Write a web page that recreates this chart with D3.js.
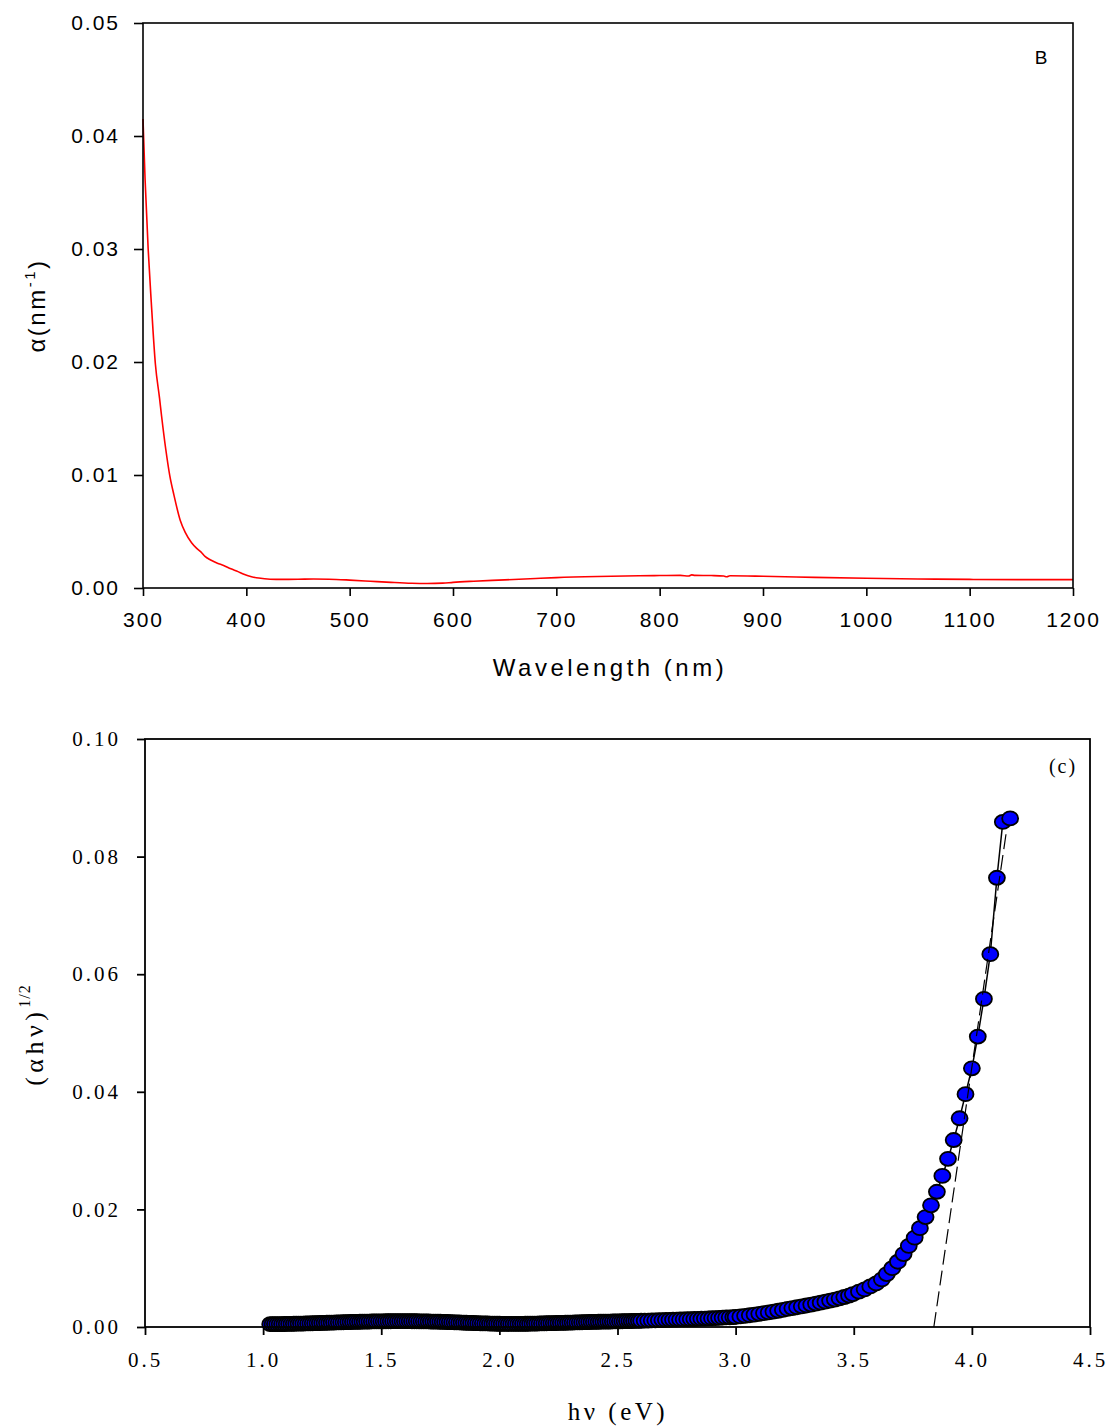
<!DOCTYPE html>
<html>
<head>
<meta charset="utf-8">
<script src="https://cdn.jsdelivr.net/npm/d3@7"></script>
<style>
  body { margin: 0; background: #fff; }
  .sans text { font-family: "Liberation Sans", Arial, sans-serif; }
  .serif text { font-family: "Liberation Serif", "Times New Roman", serif; }
</style>
</head>
<body>
<svg id="chart" width="1109" height="1427"></svg>
<script>
// ---- top panel : absorption coefficient vs wavelength ----
var wavelength = [300,302,305,308,312,316,318,322,326,330,336,341,347,352,356,360,365,372,378,385,392,397,405,412,423,435,450,465,480,500,520,540,560,575,590,600,620,650,680,700,740,780,800,820,828,831,834,850,862,865,868,900,950,1000,1050,1100,1150,1200]
var alpha = [0.0415,0.0362,0.0300,0.0253,0.0198,0.0168,0.0152,0.0123,0.0099,0.0082,0.0060,0.0049,0.0040,0.0035,0.0032,0.0028,0.0025,0.0022,0.0020,0.0017,0.00145,0.00124,0.0010,0.00088,0.00078,0.00076,0.00077,0.00080,0.00078,0.00070,0.00060,0.00050,0.00042,0.00040,0.00043,0.00050,0.00060,0.00072,0.00084,0.00092,0.00102,0.00108,0.00110,0.00112,0.00106,0.00116,0.00112,0.00110,0.00106,0.00099,0.00108,0.00104,0.00094,0.00086,0.00080,0.00076,0.00074,0.00074]
var topXTicks = [300,400,500,600,700,800,900,1000,1100,1200]
var topYTicks = [0,0.01,0.02,0.03,0.04,0.05]

// ---- bottom panel : (alpha h nu)^1/2 vs photon energy ----
// dense part of the band (markers overlap into a solid strip)
var bandEnergy = [1.03,1.04,1.05,1.06,1.07,1.08,1.09,
  1.10,1.11,1.12,1.13,1.14,1.15,1.16,1.17,1.18,1.19,
  1.20,1.21,1.22,1.23,1.24,1.25,1.26,1.27,1.28,1.29,
  1.30,1.31,1.32,1.33,1.34,1.35,1.36,1.37,1.38,1.39,
  1.40,1.41,1.42,1.43,1.44,1.45,1.46,1.47,1.48,1.49,
  1.50,1.51,1.52,1.53,1.54,1.55,1.56,1.57,1.58,1.59,
  1.60,1.61,1.62,1.63,1.64,1.65,1.66,1.67,1.68,1.69,
  1.70,1.71,1.72,1.73,1.74,1.75,1.76,1.77,1.78,1.79,
  1.80,1.81,1.82,1.83,1.84,1.85,1.86,1.87,1.88,1.89,
  1.90,1.91,1.92,1.93,1.94,1.95,1.96,1.97,1.98,1.99,
  2.00,2.01,2.02,2.03,2.04,2.05,2.06,2.07,2.08,2.09,
  2.10,2.11,2.12,2.13,2.14,2.15,2.16,2.17,2.18,2.19,
  2.20,2.21,2.22,2.23,2.24,2.25,2.26,2.27,2.28,2.29,
  2.30,2.31,2.32,2.33,2.34,2.35,2.36,2.37,2.38,2.39,
  2.40,2.41,2.42,2.43,2.44,2.45,2.46,2.47,2.48,2.49,
  2.50,2.51,2.52,2.53,2.54,2.55,2.56,2.57,2.58,2.59,
  2.600,2.615,2.630,2.645,2.660,2.675,2.690,2.705,2.720,2.735,2.750,2.765,2.780,2.795,
  2.810,2.825,2.840,2.855,2.870,2.885,2.900,2.915,2.930,2.945,2.960,2.975,2.990,
  3.00,3.02,3.04,3.06,3.08,3.10,3.12,3.14,3.16,3.18,3.20,3.22,3.24,3.26,3.28,
  3.30,3.32,3.34,3.36,3.38,3.40,3.42,3.44,3.46,3.48]
var bandValue = [.00048,.00048,.00049,.00049,.00050,.00050,.00051,
  .00052,.00053,.00054,.00055,.00056,.00057,.00058,.00059,.00060,.00061,
  .00062,.00064,.00065,.00066,.00068,.00069,.00070,.00072,.00073,.00074,
  .00076,.00077,.00078,.00080,.00081,.00082,.00084,.00085,.00086,.00087,
  .00088,.00089,.00090,.00091,.00092,.00093,.00094,.00095,.00095,.00096,
  .00097,.00097,.00098,.00098,.00098,.00099,.00099,.00099,.00099,.00099,
  .00099,.00099,.00099,.00098,.00098,.00098,.00097,.00097,.00096,.00095,
  .00094,.00093,.00092,.00091,.00090,.00089,.00087,.00086,.00085,.00083,
  .00082,.00080,.00079,.00077,.00076,.00074,.00072,.00071,.00069,.00068,
  .00066,.00065,.00063,.00062,.00061,.00060,.00058,.00057,.00056,.00055,
  .00055,.00054,.00054,.00053,.00053,.00053,.00053,.00053,.00053,.00054,
  .00054,.00055,.00055,.00056,.00057,.00058,.00059,.00060,.00061,.00063,
  .00064,.00065,.00066,.00067,.00068,.00069,.00070,.00071,.00072,.00074,
  .00075,.00076,.00077,.00078,.00080,.00081,.00082,.00083,.00085,.00086,
  .00087,.00088,.00089,.00090,.00091,.00091,.00092,.00093,.00094,.00095,
  .00096,.00097,.00098,.00099,.00100,.00101,.00102,.00103,.00104,.00105,
  .00106,.00108,.00110,.00112,.00114,.00116,.00118,.00120,.00122,.00124,.00126,.00128,.00130,.00132,
  .00134,.00136,.00139,.00141,.00143,.00146,.00149,.00152,.00155,.00158,.00162,.00165,.00169,
  .00172,.00180,.00190,.00200,.00212,.00224,.00236,.00248,.00262,.00276,.00290,.00308,.00322,.00336,.00352,
  .00366,.00382,.00398,.00414,.00430,.00448,.00466,.00488,.00510,.00535]
// absorption edge, markers read one by one
var edgeEnergy = [3.496,3.522,3.546,3.570,3.595,3.619,3.640,3.663,3.687,3.711,3.733,3.758,3.780,3.804,3.827,3.852,3.875,3.899,3.923,3.948,3.973,4.000,4.025,4.051,4.078,4.106,4.131,4.162]
var edgeValue = [0.0056,0.0060,0.0064,0.0069,0.0074,0.0081,0.0090,0.0100,0.0111,0.0124,0.0138,0.0152,0.0168,0.0187,0.0207,0.0230,0.0257,0.0286,0.0318,0.0355,0.0396,0.0440,0.0494,0.0558,0.0634,0.0764,0.0859,0.0865]
// linear extrapolation of the edge (dashed)
var fitEnergy = [3.839, 4.148]
var fitValue = [0, 0.0848]
var botXTicks = [0.5,1.0,1.5,2.0,2.5,3.0,3.5,4.0,4.5]
var botYTicks = [0,0.02,0.04,0.06,0.08,0.10]

var svg = d3.select('#chart')

// ================= top panel =================
var t_margin = { left: 143, top: 23 }
var t_width = 930, t_height = 565

var t = svg.append('g')
  .attr('class', 'sans')
  .attr('transform', 'translate(' + t_margin.left + ',' + t_margin.top + ')')

var tx = d3.scaleLinear().domain([300, 1200]).range([0, t_width])
var ty = d3.scaleLinear().domain([0, 0.05]).range([t_height, 0])

var txAxis = t.append('g')
  .attr('transform', 'translate(0,' + t_height + ')')
  .call(d3.axisBottom(tx).tickValues(topXTicks).tickSize(8).tickPadding(16).tickFormat(d3.format('d')))
var tyAxis = t.append('g')
  .call(d3.axisLeft(ty).tickValues(topYTicks).tickSize(9).tickPadding(14).tickFormat(d3.format('.2f')))

;[txAxis, tyAxis].forEach(function(a) {
  a.select('.domain').remove()
  a.selectAll('line').attr('stroke', '#000').attr('stroke-width', 1.6)
  a.selectAll('text').attr('fill', '#000').style('font-size', '21px').style('letter-spacing', '2px')
})

t.append('path')
  .datum(wavelength.map(function(w, i) { return [w, alpha[i]] }))
  .attr('fill', 'none')
  .attr('stroke', '#ff0000')
  .attr('stroke-width', 1.6)
  .attr('d', d3.line().x(function(d) { return tx(d[0]) }).y(function(d) { return ty(d[1]) }).curve(d3.curveMonotoneX))

t.append('rect')
  .attr('width', t_width).attr('height', t_height)
  .attr('fill', 'none').attr('stroke', '#000').attr('stroke-width', 1.6)

t.append('text')
  .attr('x', t_width / 2 + 2).attr('y', 653)
  .attr('text-anchor', 'middle')
  .style('font-size', '24px').style('letter-spacing', '3.5px')
  .text('Wavelength (nm)')

var tTitle = t.append('text')
  .attr('transform', 'translate(-98,' + (t_height / 2) + ') rotate(-90)')
  .attr('text-anchor', 'middle')
  .style('font-size', '24px').style('letter-spacing', '2.5px')
tTitle.append('tspan').text('α(nm')
tTitle.append('tspan').attr('dy', -10).style('font-size', '15px').text('-1')
tTitle.append('tspan').attr('dy', 10).text(')')

t.append('text')
  .attr('x', 898).attr('y', 41)
  .attr('text-anchor', 'middle')
  .style('font-size', '19px')
  .text('B')

// ================= bottom panel =================
var b_margin = { left: 145, top: 739 }
var b_width = 945, b_height = 588

var b = svg.append('g')
  .attr('class', 'serif')
  .attr('transform', 'translate(' + b_margin.left + ',' + b_margin.top + ')')

var bx = d3.scaleLinear().domain([0.5, 4.5]).range([0, b_width])
var by = d3.scaleLinear().domain([0, 0.10]).range([b_height, 0])

var bxAxis = b.append('g')
  .attr('transform', 'translate(0,' + b_height + ')')
  .call(d3.axisBottom(bx).tickValues(botXTicks).tickSize(8).tickPadding(17).tickFormat(d3.format('.1f')))
var byAxis = b.append('g')
  .call(d3.axisLeft(by).tickValues(botYTicks).tickSize(8).tickPadding(16).tickFormat(d3.format('.2f')))

;[bxAxis, byAxis].forEach(function(a) {
  a.select('.domain').remove()
  a.selectAll('line').attr('stroke', '#000').attr('stroke-width', 1.8)
  a.selectAll('text').attr('fill', '#000').style('font-size', '21px').style('letter-spacing', '3px')
})

var points = bandEnergy.map(function(e, i) { return { e: e, v: bandValue[i] } })
  .concat(edgeEnergy.map(function(e, i) { return { e: e, v: edgeValue[i] } }))

b.append('path')
  .datum(points)
  .attr('fill', 'none')
  .attr('stroke', '#000')
  .attr('stroke-width', 1.5)
  .attr('d', d3.line().x(function(d) { return bx(d.e) }).y(function(d) { return by(d.v) }))

b.selectAll('.pt')
  .data(points)
  .enter()
  .append('ellipse')
  .attr('class', 'pt')
  .attr('cx', function(d) { return bx(d.e) })
  .attr('cy', function(d) { return by(d.v) })
  .attr('rx', 8)
  .attr('ry', 7)
  .attr('fill', '#0000ff')
  .attr('stroke', '#000')
  .attr('stroke-width', 1.8)

b.append('path')
  .datum(fitEnergy.map(function(e, i) { return [e, fitValue[i]] }))
  .attr('fill', 'none')
  .attr('stroke', '#000')
  .attr('stroke-width', 1.2)
  .attr('stroke-dasharray', '15,6')
  .attr('d', d3.line().x(function(d) { return bx(d[0]) }).y(function(d) { return by(d[1]) }))

b.append('rect')
  .attr('width', b_width).attr('height', b_height)
  .attr('fill', 'none').attr('stroke', '#000').attr('stroke-width', 1.8)

b.append('text')
  .attr('x', 473).attr('y', 681)
  .attr('text-anchor', 'middle')
  .style('font-size', '25px').style('letter-spacing', '3.5px')
  .text('hν (eV)')

var bTitle = b.append('text')
  .attr('transform', 'translate(-102,' + (b_height / 2 + 2) + ') rotate(-90)')
  .attr('text-anchor', 'middle')
  .style('font-size', '26px').style('letter-spacing', '4.5px')
bTitle.append('tspan').text('(αhν)')
bTitle.append('tspan').attr('dy', -13).style('font-size', '16px').style('letter-spacing', '1px').text('1/2')

b.append('text')
  .attr('x', 918).attr('y', 34)
  .attr('text-anchor', 'middle')
  .style('font-size', '20px').style('letter-spacing', '2px')
  .text('(c)')
</script>
</body>
</html>
